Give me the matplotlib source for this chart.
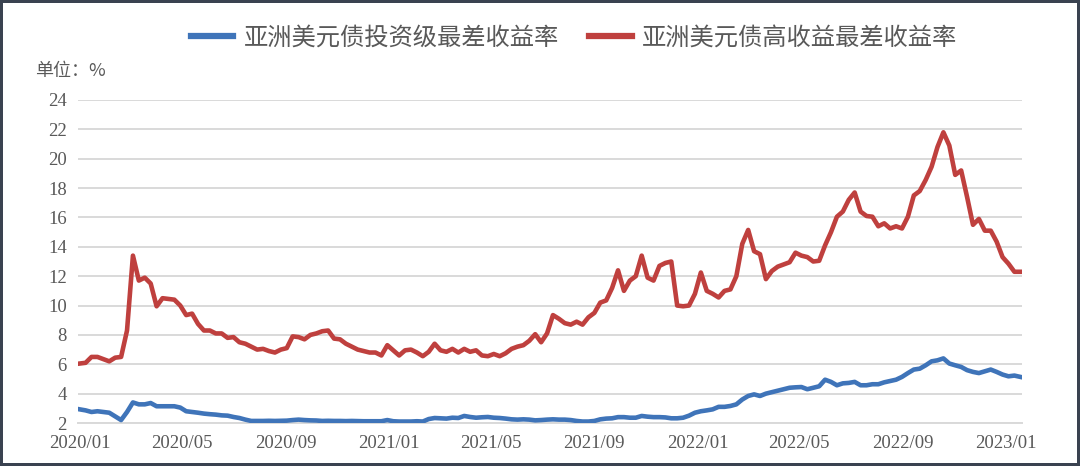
import matplotlib
matplotlib.use("Agg")
import matplotlib.pyplot as plt
import matplotlib.dates as mdates
import pandas as pd

# ---- data (weekly readings, %) ----
start_date = "2020-01-01"
n_weeks = 160

ig_worst_yield = [
    2.93, 2.86, 2.75, 2.8, 2.75, 2.7, 2.45, 2.2, 2.75, 3.4,
    3.27, 3.27, 3.36, 3.14, 3.14, 3.14, 3.14, 3.05, 2.8, 2.75,
    2.7, 2.64, 2.6, 2.57, 2.52, 2.5, 2.41, 2.34, 2.23, 2.14,
    2.14, 2.14, 2.15, 2.14, 2.15, 2.16, 2.2, 2.23, 2.2, 2.18,
    2.17, 2.14, 2.15, 2.14, 2.14, 2.13, 2.14, 2.13, 2.12, 2.12,
    2.12, 2.12, 2.2, 2.12, 2.1, 2.1, 2.1, 2.12, 2.1, 2.27,
    2.34, 2.32, 2.3, 2.36, 2.34, 2.48, 2.41, 2.36, 2.39, 2.41,
    2.36, 2.34, 2.3, 2.25, 2.23, 2.25, 2.23, 2.18, 2.2, 2.23,
    2.25, 2.23, 2.23, 2.2, 2.14, 2.1, 2.1, 2.14, 2.25, 2.3,
    2.32, 2.4, 2.4, 2.36, 2.36, 2.48, 2.43, 2.4, 2.4, 2.38,
    2.32, 2.32, 2.36, 2.5, 2.7, 2.8, 2.86, 2.93, 3.1, 3.1,
    3.16, 3.27, 3.6, 3.84, 3.95, 3.84, 4.0, 4.1, 4.2, 4.3,
    4.4, 4.43, 4.45, 4.3, 4.4, 4.5, 4.95, 4.8, 4.57, 4.7,
    4.73, 4.8, 4.57, 4.57, 4.64, 4.64, 4.77, 4.86, 4.95, 5.14,
    5.4, 5.64, 5.7, 5.93, 6.2, 6.27, 6.4, 6.05, 5.93, 5.82,
    5.6, 5.48, 5.4, 5.52, 5.64, 5.48, 5.3, 5.18, 5.23, 5.14,
]

hy_worst_yield = [
    6.05, 6.1, 6.5, 6.5, 6.35, 6.2, 6.45, 6.5, 8.3, 13.4,
    11.7, 11.9, 11.5, 9.95, 10.5, 10.45, 10.4, 10.0, 9.35, 9.45,
    8.75, 8.3, 8.3, 8.1, 8.1, 7.8, 7.85, 7.5, 7.4, 7.2,
    7.0, 7.05, 6.9, 6.8, 7.0, 7.1, 7.9, 7.85, 7.7, 8.0,
    8.1, 8.25, 8.3, 7.75, 7.7, 7.4, 7.2, 7.0, 6.9, 6.8,
    6.8, 6.6, 7.3, 6.95, 6.6, 6.95, 7.0, 6.8, 6.55, 6.85,
    7.4, 6.95, 6.85, 7.05, 6.8, 7.05, 6.85, 6.95, 6.6, 6.55,
    6.7, 6.55, 6.75, 7.05, 7.2, 7.3, 7.6, 8.05, 7.5, 8.1,
    9.35, 9.1, 8.8, 8.7, 8.9, 8.7, 9.2, 9.5, 10.2, 10.35,
    11.2, 12.4, 11.0, 11.7, 12.0, 13.4, 11.9, 11.7, 12.7, 12.9,
    13.0, 10.0, 9.95, 10.0, 10.8, 12.25, 11.0, 10.8, 10.55, 11.0,
    11.1, 12.0, 14.2, 15.15, 13.7, 13.5, 11.8, 12.35, 12.65, 12.8,
    12.95, 13.6, 13.4, 13.3, 13.0, 13.05, 14.1, 15.0, 16.05, 16.4,
    17.2, 17.7, 16.4, 16.1, 16.05, 15.4, 15.6, 15.25, 15.4, 15.25,
    16.05, 17.5, 17.8, 18.55, 19.45, 20.8, 21.8, 20.9, 18.9, 19.2,
    17.4, 15.5, 15.9, 15.1, 15.1, 14.35, 13.3, 12.85, 12.3, 12.3,
]

series_labels = ["亚洲美元债投资级最差收益率", "亚洲美元债高收益最差收益率"]
unit_label = "单位：%"
y_ticks = [2, 4, 6, 8, 10, 12, 14, 16, 18, 20, 22, 24]
x_tick_dates = ["2020-01-01", "2020-05-01", "2020-09-01", "2021-01-01", "2021-05-01",
                "2021-09-01", "2022-01-01", "2022-05-01", "2022-09-01", "2023-01-01"]

dates = pd.date_range(start_date, periods=n_weeks, freq="7D")

# ---- styling ----
BLUE = "#3F74B9"
RED = "#BF403E"
GRID = "#D9D9D9"
TXT = "#595959"
NUM_FONT = ["Liberation Serif", "DejaVu Serif"]
CJK_FONT = ["Noto Sans CJK SC", "DejaVu Sans"]

fig = plt.figure(figsize=(10.8, 4.66), dpi=100)
fig.patch.set_facecolor("white")
fig.patch.set_edgecolor("#3A4250")
fig.patch.set_linewidth(3)

ax = fig.add_axes([78 / 1080, 43 / 466, (1022 - 78) / 1080, (423 - 100) / 466])

l1, = ax.plot(dates, ig_worst_yield, color=BLUE, lw=3.3, solid_joinstyle="round",
              label=series_labels[0], zorder=3)
l2, = ax.plot(dates, hy_worst_yield, color=RED, lw=3.3, solid_joinstyle="round",
              label=series_labels[1], zorder=3)

ax.set_ylim(2, 24)
ax.set_yticks(y_ticks)
ax.set_xlim(pd.Timestamp("2019-12-30"), pd.Timestamp("2023-01-20"))
ax.set_xticks(pd.to_datetime(x_tick_dates))
ax.xaxis.set_major_formatter(mdates.DateFormatter("%Y/%m"))

ax.grid(axis="y", color=GRID, lw=1.4, zorder=0)
ax.grid(axis="x", visible=False)
for s in ["top", "right", "left"]:
    ax.spines[s].set_visible(False)
ax.spines["bottom"].set_color(GRID)
ax.spines["bottom"].set_linewidth(1.4)
ax.tick_params(axis="both", length=0, colors=TXT, labelsize=13.5)
ax.tick_params(axis="x", pad=9)
ax.tick_params(axis="y", pad=8)
for lab in ax.get_xticklabels() + ax.get_yticklabels():
    lab.set_fontfamily(NUM_FONT)
    lab.set_color(TXT)

fig.text(35 / 1080, 1 - 71 / 466, unit_label, family=CJK_FONT, fontsize=13,
         color=TXT, ha="left", va="center")

leg = fig.legend(handles=[l1, l2], loc="center", bbox_to_anchor=(574 / 1080, 1 - 38 / 466),
                 ncol=2, frameon=False, prop={"family": CJK_FONT, "size": 17.5},
                 handlelength=1.75, handletextpad=0.42, columnspacing=1.25)
for t in leg.get_texts():
    t.set_color(TXT)
for h in leg.legend_handles:
    h.set_linewidth(4.5)

fig.savefig("out.png", dpi=100, facecolor="white")
